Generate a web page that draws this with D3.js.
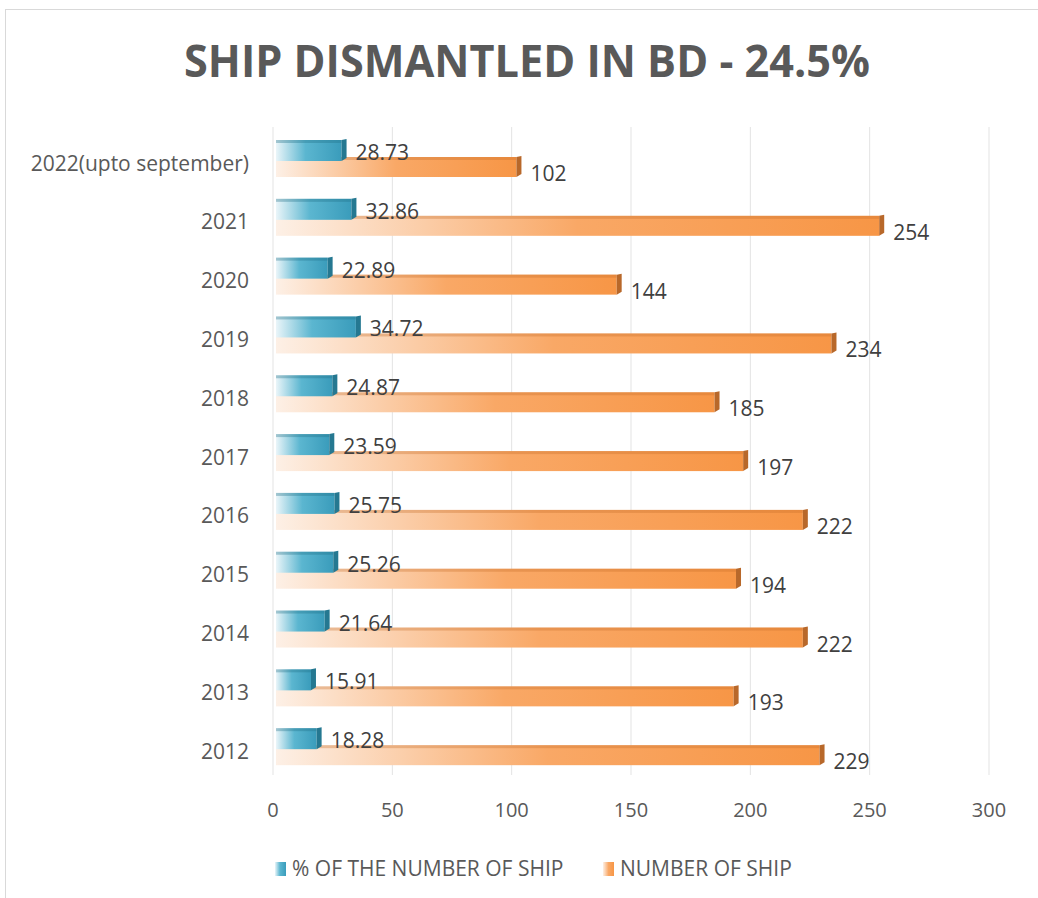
<!DOCTYPE html>
<html>
<head>
<meta charset="utf-8">
<script src="https://cdn.jsdelivr.net/npm/d3@7"></script>
<style>
  body { margin: 0; background: #fff; }
  text { font-family: "Open Sans", sans-serif; }
</style>
</head>
<body>
<svg width="1038" height="898"></svg>
<script>
var years = ["2022(upto september)","2021","2020","2019","2018","2017","2016","2015","2014","2013","2012"]
var pctShip = [28.73, 32.86, 22.89, 34.72, 24.87, 23.59, 25.75, 25.26, 21.64, 15.91, 18.28]
var numShip = [102, 254, 144, 234, 185, 197, 222, 194, 222, 193, 229]
var seriesNames = ["% OF THE NUMBER OF SHIP", "NUMBER OF SHIP"]
var xTicks = [0, 50, 100, 150, 200, 250, 300]

var svg = d3.select("svg")
var defs = svg.append("defs")

// gradients for the faded bars
var g1 = defs.append("linearGradient").attr("id","blueGrad")
g1.append("stop").attr("offset","0%").style("stop-color","#eaf5f9")
g1.append("stop").attr("offset","45%").style("stop-color","#5bb6d0")
g1.append("stop").attr("offset","100%").style("stop-color","#3a9cbb")

var g2 = defs.append("linearGradient").attr("id","orangeGrad")
g2.append("stop").attr("offset","0%").style("stop-color","#fdf0e6")
g2.append("stop").attr("offset","50%").style("stop-color","#f9a866")
g2.append("stop").attr("offset","100%").style("stop-color","#f79646")

// outer frame
svg.append("rect")
  .attr("x",5.5).attr("y",9.5)
  .attr("width",1060).attr("height",900)
  .style("fill","#fff").style("stroke","#d9d9d9")

svg.append("text")
  .attr("x",527).attr("y",77)
  .attr("text-anchor","middle")
  .attr("textLength",686).attr("lengthAdjust","spacingAndGlyphs")
  .style("font-size","45px").style("font-weight","bold")
  .style("fill","#595959")
  .text("SHIP DISMANTLED IN BD - 24.5%")

var x = d3.scaleLinear().domain([0,300]).range([273,989])
var y = d3.scaleBand().domain(years).range([128,775])
var y1 = d3.scaleBand().domain(seriesNames).range([12,50])

// gridlines
svg.selectAll(".grid").data(xTicks).enter()
  .append("line")
  .attr("x1",d=>x(d)).attr("x2",d=>x(d))
  .attr("y1",127).attr("y2",775)
  .style("stroke","#e3e3e3").style("stroke-width",1)

// x tick labels
svg.selectAll(".xt").data(xTicks).enter()
  .append("text")
  .attr("x",d=>x(d)).attr("y",817)
  .attr("text-anchor","middle")
  .style("font-size","20px").style("fill","#595959")
  .text(d=>d)

// category labels
svg.selectAll(".yl").data(years).enter()
  .append("text")
  .attr("x",249).attr("y",d=>y(d)+42.5)
  .attr("text-anchor","end")
  .style("font-size","21px").style("fill","#595959")
  .text(d=>d)

var rows = years.map((d,i)=>({year:d, pct:pctShip[i], num:numShip[i]}))

function drawBars(key, series, grad, capColor, topColor, h, dy) {
  var g = svg.append("g")
  rows.forEach(function(d){
    var top = y(d.year) + y1(series) + dy
    var end = x(d[key])
    // body
    g.append("rect")
      .attr("x",x(0)+3).attr("y",top)
      .attr("width",end-x(0)-3).attr("height",h)
      .style("fill",`url(#${grad})`)
    // top face
    g.append("rect")
      .attr("x",x(0)+3).attr("y",top)
      .attr("width",end-x(0)-3).attr("height",3)
      .style("fill",topColor).style("opacity",0.35)
    // end cap
    g.append("polygon")
      .attr("points",[[end,top],[end+5,top-1],[end+5,top+h-3],[end,top+h]].join(" "))
      .style("fill",capColor)
  })
}

drawBars("num", seriesNames[1], "orangeGrad", "#b8682a", "#c8702c", 20, -2)
drawBars("pct", seriesNames[0], "blueGrad", "#257891", "#1f6f86", 21, 0)

// value labels
svg.selectAll(".vp").data(rows).enter()
  .append("text")
  .attr("x",d=>x(d.pct)+14).attr("y",d=>y(d.year)+y1(seriesNames[0])+20)
  .style("font-size","21px").style("fill","#404040")
  .text(d=>d.pct.toFixed(2))

svg.selectAll(".vn").data(rows).enter()
  .append("text")
  .attr("x",d=>x(d.num)+14).attr("y",d=>y(d.year)+y1(seriesNames[1])+22)
  .style("font-size","21px").style("fill","#404040")
  .text(d=>d.num)

// legend
var legX = [275, 603]
var legGrad = ["blueGrad","orangeGrad"]
seriesNames.forEach(function(s,i){
  svg.append("rect")
    .attr("x",legX[i]).attr("y",862)
    .attr("width",11).attr("height",14)
    .style("fill",`url(#${legGrad[i]})`)
  svg.append("text")
    .attr("x",legX[i]+17).attr("y",876)
    .style("font-size","21px").style("fill","#595959")
    .text(s)
})
</script>
</body>
</html>
